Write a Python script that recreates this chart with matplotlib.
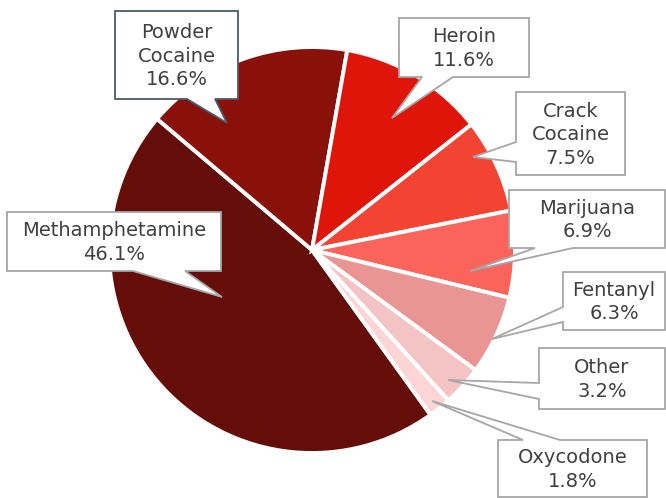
import matplotlib
matplotlib.use("Agg")
import matplotlib.pyplot as plt
from matplotlib.patches import Polygon

# ---- data ----
drugs = ["Methamphetamine", "Powder\nCocaine", "Heroin", "Crack\nCocaine",
         "Marijuana", "Fentanyl", "Other", "Oxycodone"]
shares = [46.1, 16.6, 11.6, 7.5, 6.9, 6.3, 3.2, 1.8]
colors = ["#650E09", "#8A110A", "#E0150A", "#F24333",
          "#FA645A", "#E99594", "#F4C3C3", "#FDD5D5"]

W, H = 666, 498
fig = plt.figure(figsize=(W / 100, H / 100), dpi=100)
ax = fig.add_axes([0, 0, 1, 1])

def P(x, y):
    return (x, H - y)

ax.pie(shares, colors=colors, center=P(312, 250), radius=203,
       startangle=-54.28, counterclock=False, frame=True,
       wedgeprops=dict(edgecolor="white", linewidth=2.8))

ax.set_xlim(0, W)
ax.set_ylim(0, H)
ax.set_aspect("equal")
ax.axis("off")

# callout layout (pixel coords, top-left origin): box, side, base, tip
layout = {
    "Methamphetamine": ((7, 212, 221, 271), "bottom", (133, 185), (222, 297), "#A6A6A6"),
    "Powder\nCocaine": ((115, 11, 238, 99), "bottom", (187, 215), (227, 123), "#4A5A6E"),
    "Heroin": ((399, 18, 529, 77), "bottom", (422, 453), (392, 118), "#A6A6A6"),
    "Crack\nCocaine": ((516, 92, 625, 175), "left", (142, 162), (473, 157), "#A6A6A6"),
    "Marijuana": ((509, 190, 665, 248), "bottom", (535, 573), (470, 271), "#A6A6A6"),
    "Fentanyl": ((563, 272, 665, 330), "left", (307, 322), (492, 339), "#A6A6A6"),
    "Other": ((539, 348, 665, 409), "left", (383, 399), (448, 380), "#A6A6A6"),
    "Oxycodone": ((498, 440, 647, 497), "top", (523, 560), (432, 401), "#A6A6A6"),
}

def callout_points(box, side, base, tip):
    x0, y0, x1, y1 = box
    a, b = base
    if side == "bottom":
        pts = [(x0, y0), (x1, y0), (x1, y1), (b, y1), tip, (a, y1), (x0, y1)]
    elif side == "left":
        pts = [(x0, y0), (x1, y0), (x1, y1), (x0, y1), (x0, b), tip, (x0, a)]
    else:  # top
        pts = [(x0, y0), (a, y0), tip, (b, y0), (x1, y0), (x1, y1), (x0, y1)]
    return [P(*p) for p in pts]

for name, val in zip(drugs, shares):
    box, side, base, tip, ec = layout[name]
    poly = Polygon(callout_points(box, side, base, tip), closed=True,
                   facecolor="white", edgecolor=ec, linewidth=1.3, zorder=5,
                   joinstyle="miter")
    ax.add_patch(poly)
    cx = (box[0] + box[2]) / 2
    cy = (box[1] + box[3]) / 2
    ax.text(*P(cx, cy + 1), f"{name}\n{val:.1f}%", ha="center", va="center",
            fontsize=14, color="#404040", family="DejaVu Sans",
            linespacing=1.3, zorder=6)

fig.savefig("out.png", dpi=100, facecolor="white")
